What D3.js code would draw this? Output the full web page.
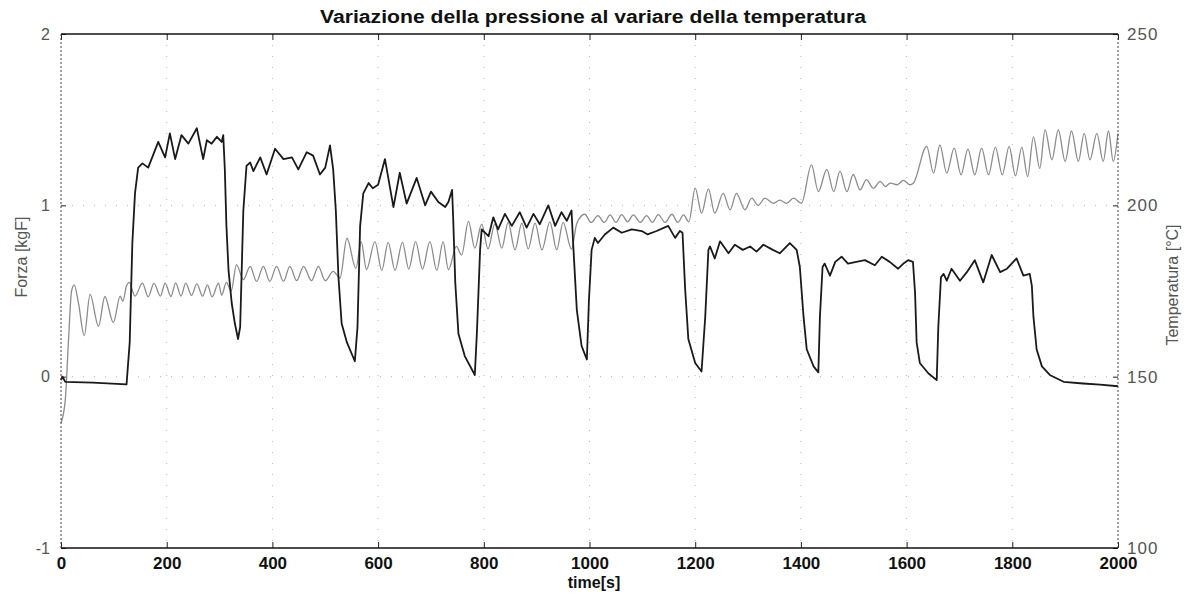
<!DOCTYPE html>
<html>
<head>
<meta charset="utf-8">
<script src="https://cdn.jsdelivr.net/npm/d3@7"></script>
<style>
  body { margin: 0; background: #fff; }
  svg { display: block; font-family: "Liberation Sans", Arial, Helvetica, sans-serif; }
</style>
</head>
<body>
<svg id="drawing_region"></svg>
<script>
// tick values of the three axes
const timeTicks  = [0, 200, 400, 600, 800, 1000, 1200, 1400, 1600, 1800, 2000];
const forceTicks = [-1, 0, 1, 2];
const tempTicks  = [100, 150, 200, 250];

// Forza [kgF] vs time[s]
const forceData = [
  [0, -0.02], [3, 0.0], [8, -0.03], [60, -0.035], [124, -0.045],
  [130, 0.2], [135, 0.78], [140, 1.07], [146, 1.22], [154, 1.245], [165, 1.22],
  [184, 1.37], [197, 1.28], [206, 1.42], [216, 1.27], [228, 1.41], [241, 1.36],
  [257, 1.45], [269, 1.27], [276, 1.38], [285, 1.36], [295, 1.40], [304, 1.37], [307, 1.41],
  [310, 1.21], [313, 0.88], [317, 0.62], [323, 0.43], [329, 0.31], [335, 0.22],
  [339, 0.29], [345, 0.97], [351, 1.23], [358, 1.25], [364, 1.20], [377, 1.28],
  [389, 1.18], [405, 1.33], [421, 1.27], [437, 1.28], [449, 1.21], [465, 1.31],
  [477, 1.29], [490, 1.18], [500, 1.22], [509, 1.35], [515, 1.21],
  [520, 0.97], [525, 0.58], [531, 0.31], [541, 0.20], [556, 0.09],
  [561, 0.29], [566, 0.88], [572, 1.07], [582, 1.13], [590, 1.10], [600, 1.12],
  [613, 1.27], [629, 0.99], [641, 1.19], [654, 1.01], [673, 1.16], [689, 1.00],
  [700, 1.08], [714, 1.02], [727, 0.99], [733, 1.02], [740, 1.09],
  [742, 0.93], [746, 0.55], [752, 0.25], [764, 0.12], [783, 0.01],
  [787, 0.26], [793, 0.74], [796, 0.86], [809, 0.82], [818, 0.93], [827, 0.86],
  [840, 0.95], [853, 0.88], [868, 0.96], [881, 0.87], [894, 0.95], [906, 0.89],
  [922, 1.00], [935, 0.88], [947, 0.96], [957, 0.91], [966, 0.97],
  [969, 0.78], [976, 0.39], [985, 0.18], [995, 0.10],
  [999, 0.45], [1004, 0.74], [1010, 0.81], [1016, 0.78], [1029, 0.83], [1045, 0.87],
  [1061, 0.84], [1080, 0.86], [1099, 0.85], [1110, 0.83], [1127, 0.85], [1149, 0.88],
  [1162, 0.81], [1171, 0.85], [1176, 0.84],
  [1181, 0.51], [1187, 0.22], [1200, 0.08], [1212, 0.03],
  [1219, 0.35], [1225, 0.74], [1228, 0.76], [1237, 0.69], [1247, 0.79], [1263, 0.72],
  [1275, 0.77], [1290, 0.74], [1304, 0.76], [1316, 0.73], [1329, 0.77], [1347, 0.74],
  [1360, 0.72], [1379, 0.78], [1392, 0.74],
  [1398, 0.64], [1405, 0.35], [1411, 0.16], [1424, 0.06], [1433, 0.025],
  [1436, 0.35], [1441, 0.64], [1445, 0.66], [1455, 0.59], [1465, 0.67], [1477, 0.70],
  [1489, 0.66], [1505, 0.67], [1521, 0.68], [1540, 0.65], [1553, 0.70], [1568, 0.67],
  [1584, 0.63], [1594, 0.66], [1603, 0.68], [1612, 0.67],
  [1616, 0.49], [1619, 0.20], [1625, 0.08], [1641, 0.02], [1657, -0.02],
  [1660, 0.29], [1665, 0.58], [1670, 0.60], [1676, 0.56], [1685, 0.63], [1701, 0.56],
  [1714, 0.61], [1729, 0.68], [1745, 0.55], [1761, 0.71], [1777, 0.61], [1790, 0.63],
  [1808, 0.69], [1821, 0.59], [1833, 0.60],
  [1837, 0.53], [1840, 0.35], [1846, 0.16], [1856, 0.06], [1871, 0.01],
  [1897, -0.03], [1934, -0.04], [1966, -0.047], [2000, -0.056]
];

// Temperatura [°C] vs time[s]  (peaks and troughs)
const tempData = [
  [0, 136.5], [8, 143], [14, 160], [20, 175], [25, 176.8], [33, 171.5], [44, 162],
  [55, 174], [71, 164.7], [83, 173.4], [99, 165.8], [112, 173.5], [117, 172], [124, 176.5],
  [129, 177.5], [140, 173.5], [154, 177.3], [165, 173.3], [176, 177.2], [188, 173.5],
  [197, 177.3], [208, 173.4], [217, 177.4], [227, 173.5], [236, 177.3], [247, 173.7],
  [257, 177.1], [268, 173.5], [277, 176.8], [286, 173.3], [298, 177.3], [304, 173.8],
  [313, 177.5], [322, 175],
  [332, 182.7], [345, 178.3], [358, 182.2], [370, 177.8], [383, 182.2], [395, 177.8],
  [408, 182.2], [421, 177.8], [433, 182.2], [446, 178], [459, 182.2], [474, 178],
  [487, 182.2], [500, 178], [515, 180.7], [528, 178.8],
  [541, 190.4], [558, 181.6], [568, 189.4], [578, 181.2], [594, 189.4], [607, 181],
  [619, 189.2], [632, 181], [646, 189.2], [658, 181.4], [671, 189.4], [684, 181.4],
  [698, 189.4], [711, 181], [723, 189.4], [733, 181.2], [748, 188], [758, 185.5],
  [771, 195.3], [783, 187.5], [796, 194.5], [808, 187.3], [821, 194.6], [834, 187.5],
  [846, 195], [859, 187], [872, 194.8], [884, 187.3], [897, 194.8], [910, 187],
  [925, 195.2], [938, 187], [950, 195], [966, 187.2],
  [976, 194.8], [991, 197.4], [1003, 195], [1016, 197], [1028, 195], [1039, 197.2],
  [1050, 195], [1061, 197.3], [1072, 195.2], [1083, 197.2], [1096, 195], [1108, 197],
  [1119, 195], [1130, 197.3], [1143, 195], [1156, 197.4], [1167, 195], [1178, 197.2],
  [1188, 195.2],
  [1200, 205], [1212, 197.7], [1225, 204.8], [1237, 197.7], [1253, 203.5], [1266, 198.7],
  [1278, 203.5], [1294, 198.7], [1307, 202.1], [1319, 200], [1332, 202.1], [1348, 200.6],
  [1360, 201.5], [1373, 200.6], [1386, 202.1], [1401, 200.6],
  [1420, 211.8], [1433, 204], [1449, 210.5], [1462, 204], [1474, 210], [1487, 204],
  [1499, 209], [1512, 204.5], [1524, 207.5], [1537, 205], [1550, 207], [1560, 205.5],
  [1569, 206.5], [1582, 206], [1594, 207.3], [1606, 206], [1613, 206.5],
  [1638, 217.2], [1651, 209.4], [1663, 217.6], [1676, 209.4], [1690, 216.7], [1703, 208.9],
  [1716, 216.4], [1729, 208.9], [1742, 216.7], [1755, 208.9], [1768, 217], [1781, 208.9],
  [1794, 217.2], [1806, 208.6], [1818, 217], [1829, 208.4],
  [1840, 220], [1852, 210.8], [1862, 222], [1875, 213.3], [1887, 222], [1900, 212.8],
  [1912, 221.7], [1925, 212.8], [1936, 221], [1947, 213.3], [1960, 221], [1972, 212.8],
  [1982, 221.7], [1991, 212.8], [2000, 221]
];

const width = 1195, height = 595;
const margin = {top: 34, right: 77, bottom: 47, left: 61};
const innerW = width - margin.left - margin.right;
const innerH = height - margin.top - margin.bottom;
const fontFam = '"Liberation Sans", Arial, sans-serif';

const svg = d3.select('#drawing_region')
  .attr('width', width)
  .attr('height', height);

const chart = svg.append('g')
  .attr('transform', `translate(${margin.left}, ${margin.top})`);

const xscale = d3.scaleLinear().domain([0, 2000]).range([0, innerW]);
const yforce = d3.scaleLinear().domain([-1, 2]).range([innerH, 0]);
const ytemp  = d3.scaleLinear().domain([100, 250]).range([innerH, 0]);

// faint dotted grid (grid on)
chart.append('g').selectAll('line')
  .data(timeTicks.slice(1, -1))
  .join('line')
  .attr('x1', d => xscale(d)).attr('x2', d => xscale(d))
  .attr('y1', 0).attr('y2', innerH)
  .attr('stroke', '#bbb').attr('stroke-width', 1)
  .attr('stroke-dasharray', '1,10');

chart.append('g').selectAll('line')
  .data(forceTicks.slice(1, -1))
  .join('line')
  .attr('x1', 0).attr('x2', innerW)
  .attr('y1', d => yforce(d)).attr('y2', d => yforce(d))
  .attr('stroke', '#bbb').attr('stroke-width', 1)
  .attr('stroke-dasharray', '1,10');

// temperature curve (grey)
const tempLine = d3.line()
  .x(d => xscale(d[0]))
  .y(d => ytemp(d[1]))
  .curve(d3.curveMonotoneX);

chart.append('path')
  .datum(tempData)
  .attr('fill', 'none')
  .attr('stroke', '#8c8c8c')
  .attr('stroke-width', 1.3)
  .attr('d', tempLine);

// force curve (black)
const forceLine = d3.line()
  .x(d => xscale(d[0]))
  .y(d => yforce(d[1]))
  .curve(d3.curveLinear);

chart.append('path')
  .datum(forceData)
  .attr('fill', 'none')
  .attr('stroke', '#1a1a1a')
  .attr('stroke-width', 1.8)
  .attr('stroke-linejoin', 'round')
  .attr('d', forceLine);

// axes, ticks inside like matlab
const plain = d => String(d);
const xaxis = d3.axisBottom(xscale).tickValues(timeTicks).tickFormat(plain)
  .tickSizeInner(-6).tickSizeOuter(0).tickPadding(9);
const xaxisTop = d3.axisTop(xscale).tickValues(timeTicks).tickSizeInner(-6).tickSizeOuter(0).tickFormat('');
const yaxisL = d3.axisLeft(yforce).tickValues(forceTicks).tickFormat(plain)
  .tickSizeInner(-5).tickSizeOuter(0).tickPadding(11);
const yaxisR = d3.axisRight(ytemp).tickValues(tempTicks).tickFormat(plain)
  .tickSizeInner(-5).tickSizeOuter(0).tickPadding(9);

const xg = chart.append('g').attr('transform', `translate(0, ${innerH})`).call(xaxis);
const xtg = chart.append('g').call(xaxisTop);
const ylg = chart.append('g').call(yaxisL);
const yrg = chart.append('g').attr('transform', `translate(${innerW}, 0)`).call(yaxisR);

[xg, xtg, ylg, yrg].forEach(g => g.select('.domain').remove());
[xg, xtg, ylg, yrg].forEach(g => g.selectAll('.tick line').attr('stroke', '#222'));

xg.selectAll('text')
  .attr('font-size', 17).attr('font-weight', 'bold').attr('fill', '#111')
  .attr('font-family', fontFam);
ylg.selectAll('text')
  .attr('font-size', 16).attr('fill', '#555')
  .attr('font-family', fontFam);
yrg.selectAll('text')
  .attr('font-size', 17).attr('fill', '#555').attr('letter-spacing', 1)
  .attr('font-family', fontFam);

// frame: solid top / bottom, dotted sides (as on the scan)
chart.append('line').attr('x1', 0).attr('x2', innerW).attr('y1', 0).attr('y2', 0)
  .attr('stroke', '#111').attr('stroke-width', 1.6);
chart.append('line').attr('x1', 0).attr('x2', innerW).attr('y1', innerH).attr('y2', innerH)
  .attr('stroke', '#111').attr('stroke-width', 1.6);
chart.append('line').attr('x1', 0).attr('x2', 0).attr('y1', 0).attr('y2', innerH)
  .attr('stroke', '#444').attr('stroke-width', 1).attr('stroke-dasharray', '2,2');
chart.append('line').attr('x1', innerW).attr('x2', innerW).attr('y1', 0).attr('y2', innerH)
  .attr('stroke', '#444').attr('stroke-width', 1).attr('stroke-dasharray', '2,2');

// title and labels
svg.append('text')
  .attr('x', 593).attr('y', 23)
  .attr('text-anchor', 'middle')
  .attr('font-size', 18).attr('font-weight', 'bold').attr('fill', '#111')
  .attr('textLength', 546).attr('lengthAdjust', 'spacingAndGlyphs')
  .text('Variazione della pressione al variare della temperatura');

svg.append('text')
  .attr('x', 594).attr('y', 588)
  .attr('text-anchor', 'middle')
  .attr('font-size', 16).attr('font-weight', 'bold').attr('fill', '#111')
  .text('time[s]');

svg.append('text')
  .attr('transform', 'translate(27, 257) rotate(-90)')
  .attr('text-anchor', 'middle')
  .attr('font-size', 16).attr('fill', '#555')
  .text('Forza [kgF]');

svg.append('text')
  .attr('transform', 'translate(1178, 285) rotate(-90)')
  .attr('text-anchor', 'middle')
  .attr('font-size', 16).attr('fill', '#555')
  .text('Temperatura [°C]');
</script>
</body>
</html>
